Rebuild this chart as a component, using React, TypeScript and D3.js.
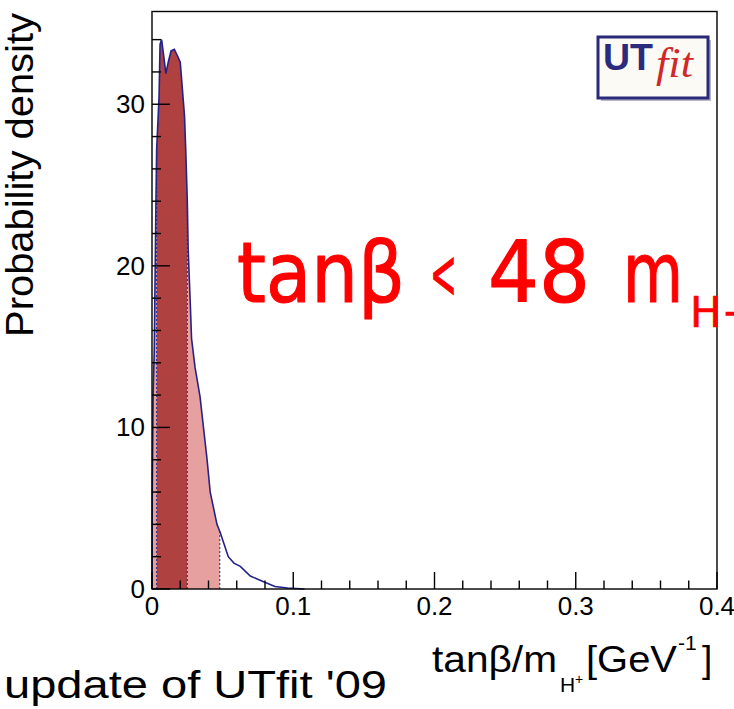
import React from "react";
import * as d3 from "d3";

// Posterior density of tanβ/m_H+ (GeV^-1)
const xValues = [0, 0.0002, 0.0008, 0.0016, 0.0028, 0.0033, 0.005, 0.0057, 0.0068, 0.008, 0.0098, 0.0115, 0.0135, 0.0158, 0.018, 0.02, 0.023, 0.0238, 0.025, 0.0256, 0.027, 0.028, 0.0305, 0.034, 0.039, 0.0412, 0.046, 0.0483, 0.054, 0.058, 0.0625, 0.0696, 0.079, 0.087, 0.096, 0.108];
const densities = [0, 6, 12, 14.8, 24, 27.2, 30.5, 33.7, 34.0, 33.2, 31.9, 32.6, 33.3, 33.4, 33.0, 32.6, 29.3, 27.4, 24.0, 21.0, 17.9, 15.5, 13.7, 11.9, 8.0, 6.0, 4.0, 3.5, 2.0, 1.6, 1.4, 0.8, 0.45, 0.15, 0.06, 0];

// Credible intervals: [from, to, kind]
const bandStarts = [0, 0.0033, 0.025];
const bandEnds = [0.0033, 0.025, 0.048];
const bandKinds = ["outer", "inner", "outer"];
const boundaryLines = [0.0033, 0.025, 0.048];

const xTickLabels = [0, 0.1, 0.2, 0.3, 0.4];
const yTickLabels = [0, 10, 20, 30];

const W = 734;
const H = 709;
const L = 152, R = 717, T = 11.5, B = 589;

const COL_LINE = "#22228a";
const COL_INNER = "#b04141";
const COL_OUTER = "#e6a0a0";

export default function App() {
  const x = d3.scaleLinear().domain([0, 0.4]).range([L, R]);
  const y = d3.scaleLinear().domain([0, 35.74]).range([B, T]);
  const data = xValues.map((v, i) => ({ x: v, y: densities[i] }));

  const line = d3.line<{ x: number; y: number }>().x(d => x(d.x)).y(d => y(d.y));
  const area = d3.area<{ x: number; y: number }>().x(d => x(d.x)).y0(y(0)).y1(d => y(d.y));

  const interp = (v: number) => {
    for (let i = 1; i < data.length; i++) {
      if (v <= data[i].x) {
        const a = data[i - 1], b = data[i];
        return a.y + ((v - a.x) / (b.x - a.x)) * (b.y - a.y);
      }
    }
    return 0;
  };

  const xMinor = d3.range(0, 0.4001, 0.02);
  const yMinor = d3.range(0, 35.7, 2);
  const font = "'Liberation Sans', Arial, Helvetica, sans-serif";

  return (
    <svg width={W} height={H} style={{ position: "absolute", left: 0, top: 0, background: "#fff" }} xmlns="http://www.w3.org/2000/svg">
      <defs>
        {bandStarts.map((s, i) => (
          <clipPath id={`band${i}`} key={i}>
            <rect x={x(s)} y={0} width={x(bandEnds[i]) - x(s)} height={H} />
          </clipPath>
        ))}
      </defs>
      <rect x={0} y={0} width={W} height={H} fill="#fff" />

      {/* filled intervals */}
      {bandStarts.map((s, i) => (
        <path key={i} d={area(data) || ""} fill={bandKinds[i] === "inner" ? COL_INNER : COL_OUTER} clipPath={`url(#band${i})`} />
      ))}
      {boundaryLines.map((v, i) => (
        <line key={i} x1={x(v)} x2={x(v)} y1={y(0)} y2={y(interp(v))} stroke={COL_LINE} strokeWidth={1} strokeDasharray="2,2" />
      ))}
      <path d={line(data) || ""} fill="none" stroke={COL_LINE} strokeWidth={1.6} />

      {/* frame */}
      <rect x={L} y={T} width={R - L} height={B - T} fill="none" stroke="#000" strokeWidth={1.4} />

      {/* x ticks */}
      {xMinor.map((v, i) => {
        const major = Math.abs(v * 10 - Math.round(v * 10)) < 1e-6;
        return <line key={i} x1={x(v)} x2={x(v)} y1={B} y2={B - (major ? 17 : 8.5)} stroke="#000" strokeWidth={1.4} />;
      })}
      {xTickLabels.map((v, i) => (
        <text key={i} x={x(v)} y={615} textAnchor="middle" fontFamily={font} fontSize={26} fill="#000">{v === 0 ? "0" : v.toFixed(1)}</text>
      ))}

      {/* y ticks */}
      {yMinor.map((v, i) => {
        const major = v % 10 === 0;
        return <line key={i} x1={L} x2={L + (major ? 18 : 9)} y1={y(v)} y2={y(v)} stroke="#000" strokeWidth={1.4} />;
      })}
      {yTickLabels.map((v, i) => (
        <text key={i} x={145} y={y(v) + 9} textAnchor="end" fontFamily={font} fontSize={26} fill="#000">{v}</text>
      ))}

      {/* axis titles */}
      <text transform="translate(33,13) rotate(-90)" textAnchor="end" fontFamily={font} fontSize={38} fill="#000" textLength={324} lengthAdjust="spacingAndGlyphs">Probability density</text>

      <text x={432} y={672} fontFamily={font} fontSize={37} fill="#000" textLength={125} lengthAdjust="spacingAndGlyphs">tanβ/m</text>
      <text x={560} y={692} fontFamily={font} fontSize={21} fill="#000">H</text>
      <text x={575} y={684} fontFamily={font} fontSize={14} fill="#000">+</text>
      <text x={586} y={672} fontFamily={font} fontSize={37} fill="#000" textLength={91} lengthAdjust="spacingAndGlyphs">[GeV</text>
      <text x={678} y={650} fontFamily={font} fontSize={21} fill="#000">-1</text>
      <text x={702} y={672} fontFamily={font} fontSize={37} fill="#000">]</text>

      {/* footer */}
      <text x={4} y={698} fontFamily={font} fontSize={38} fill="#000" textLength={383} lengthAdjust="spacingAndGlyphs">update of UTfit '09</text>

      {/* red annotation */}
      <g fill="#ff0000" stroke="#ff0000" strokeWidth={1.2} strokeLinejoin="round" fontFamily="'DejaVu Sans', sans-serif">
        <text x={237} y={302} fontSize={84} textLength={168} lengthAdjust="spacingAndGlyphs">tanβ</text>
        <text x={430} y={298} fontSize={70} textLength={27} lengthAdjust="spacingAndGlyphs">&lt;</text>
        <text x={488} y={302} fontSize={86} textLength={102} lengthAdjust="spacingAndGlyphs">48</text>
        <text x={623} y={302} fontSize={84} textLength={60} lengthAdjust="spacingAndGlyphs">m</text>
        <text x={690} y={327} fontSize={42} strokeWidth={0.6}>H+</text>
      </g>

      {/* UTfit logo */}
      <g>
        <rect x={601} y={40} width={110} height={61} fill="#b8b8c8" />
        <rect x={598} y={37} width={110} height={61} fill="#fbfaf4" stroke="#2a2a78" strokeWidth={3} />
        <text x={603} y={70} fontFamily={font} fontWeight="bold" fontSize={36} fill="#2b2b7d" textLength={50} lengthAdjust="spacingAndGlyphs">UT</text>
        <text x={656} y={77} fontFamily="'Liberation Serif', 'DejaVu Serif', serif" fontStyle="italic" fontSize={42} fill="#d02828" textLength={37} lengthAdjust="spacingAndGlyphs">fit</text>
      </g>
    </svg>
  );
}
